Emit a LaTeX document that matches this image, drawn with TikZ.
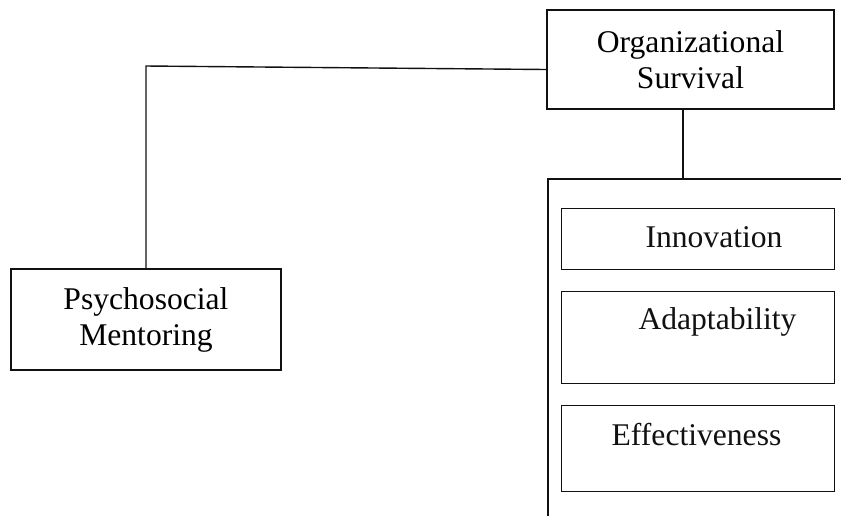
\documentclass[tikz,border=0pt]{standalone}
\usepackage{fontspec}
\setmainfont{Liberation Serif}
\usepackage{tikz}
\usetikzlibrary{positioning}
\definecolor{ink}{HTML}{111111}

\begin{document}
\begin{tikzpicture}[x=0.5pt,y=-0.5pt,
  font=\fontsize{15.8}{18}\selectfont,
  box/.style={draw=ink,line width=0.7pt,inner sep=0pt,align=center},
  item/.style={box,anchor=north west,minimum width=136.5pt},
  lbl/.style={inner sep=0pt,text=ink}]
\fill[white] (0,0) rectangle (841,516);
\useasboundingbox (0,0) rectangle (841,516);

\node[box,minimum width=143.5pt,minimum height=49.5pt] (orgsurv) at (690.5,59.5) {Organizational\\Survival};
\node[box,minimum width=135pt,minimum height=50.5pt] (psymen) at (146,319.5) {Psychosocial\\Mentoring};

% indicators of survival
\node[item,minimum height=30.5pt] (innov) at (561,208) {};
\node[item,minimum height=46pt] (adapt) at (561,291) {};
\node[item,minimum height=43pt] (effect) at (561,405) {};
\node[lbl] (innovtxt) at (714,237) {Innovation};
\node[lbl] (adapttxt) at (717.5,322) {Adaptability};
\node[lbl] (effecttxt) at (696.5,435) {Effectiveness};

% open frame round the indicators
\coordinate (grouptop) at (683,179);
\draw[ink,line width=0.7pt] (548,516) -- (548,179) -- (841,179);
\draw[ink,line width=0.7pt] (grouptop |- orgsurv.south) -- (grouptop);

% link from mentoring
\coordinate (elbow) at (146,66);
\draw[ink,line width=0.7pt] (psymen.north) -- (elbow) -- ([yshift=-5pt]orgsurv.west);
\end{tikzpicture}
\end{document}
